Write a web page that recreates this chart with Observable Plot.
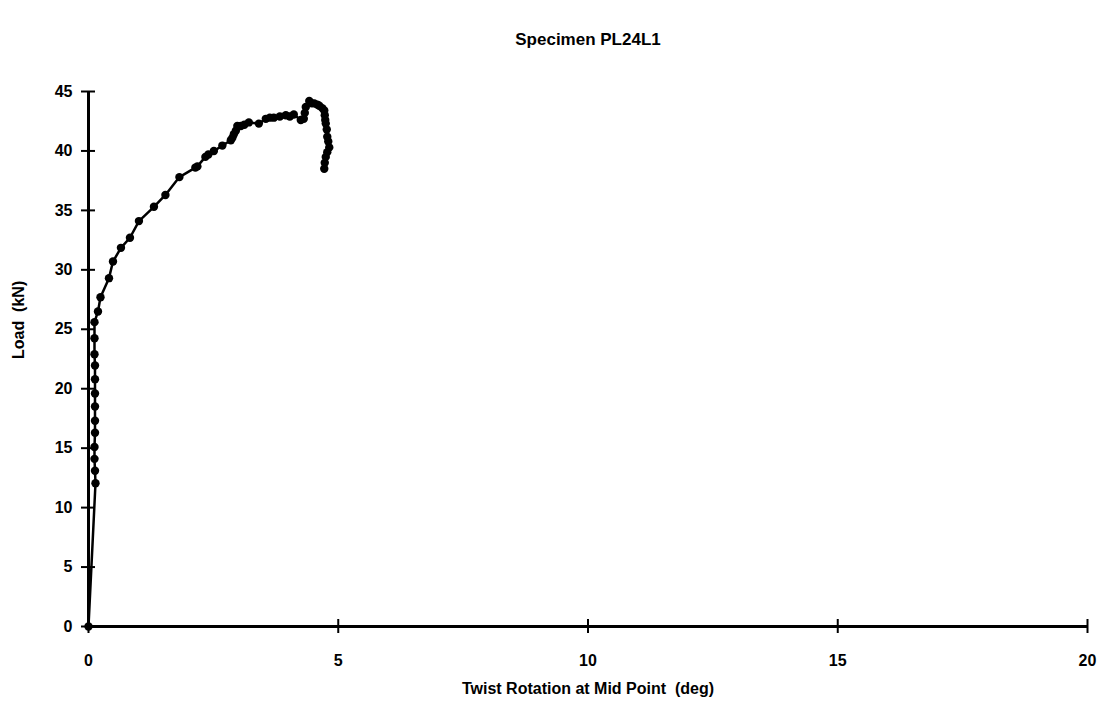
<!DOCTYPE html>
<html>
<head>
<meta charset="utf-8">
<script src="https://cdn.jsdelivr.net/npm/d3@7"></script>
<script src="https://cdn.jsdelivr.net/npm/@observablehq/plot@0.6"></script>
<style>
  html, body { margin: 0; padding: 0; background: #fff; }
  #chart svg { display: block; }
</style>
</head>
<body>
<div id="chart"></div>
<script>
const title = "Specimen PL24L1";
const xLabel = "Twist Rotation at Mid Point  (deg)";
const yLabel = "Load  (kN)";
const xTicks = [0, 5, 10, 15, 20];
const yTicks = [0, 5, 10, 15, 20, 25, 30, 35, 40, 45];

const rotation = [0, 0.14, 0.13, 0.12, 0.12, 0.13, 0.13, 0.13, 0.13, 0.13, 0.13, 0.12, 0.12, 0.12,
  0.19, 0.24, 0.41, 0.49, 0.65, 0.83, 1.01, 1.31, 1.54, 1.82, 2.14, 2.18, 2.34, 2.40, 2.51, 2.68, 2.85,
  2.88, 2.91, 2.95, 2.98, 3.05, 3.12, 3.21, 3.41, 3.55, 3.63, 3.71, 3.83, 3.95, 4.03, 4.11, 4.25, 4.31,
  4.33, 4.35, 4.42, 4.47, 4.52, 4.58, 4.62, 4.68, 4.72, 4.73, 4.74, 4.75, 4.77, 4.78, 4.80, 4.82,
  4.78, 4.75, 4.73, 4.72];
const load = [0, 12.05, 13.1, 14.1, 15.1, 16.3, 17.3, 18.5, 19.6, 20.8, 21.95, 22.9, 24.25, 25.6,
  26.5, 27.7, 29.3, 30.7, 31.85, 32.7, 34.1, 35.3, 36.3, 37.8, 38.6, 38.7, 39.5, 39.7, 40.0, 40.45, 40.9,
  41.1, 41.4, 41.7, 42.1, 42.1, 42.2, 42.4, 42.3, 42.7, 42.8, 42.8, 42.9, 43.0, 42.9, 43.06, 42.6, 42.7,
  43.2, 43.7, 44.2, 44.0, 44.0, 43.9, 43.8, 43.6, 43.4, 43.0, 42.6, 42.3, 41.8, 41.2, 40.8, 40.3,
  39.9, 39.5, 39.0, 38.5];

const data = rotation.map((r, i) => ({rotation: r, load: load[i]}));
const font = "'Liberation Sans', Arial, sans-serif";

const chart = Plot.plot({
  width: 1104,
  height: 713,
  marginLeft: 88,
  marginRight: 17,
  marginTop: 91,
  marginBottom: 87,
  style: {fontFamily: font, fontSize: "16px", fontWeight: "bold", color: "#000", background: "#fff"},
  x: {domain: [0, 20]},
  y: {domain: [0, 45]},
  marks: [
    Plot.axisX(xTicks, {tickSize: 0, tickPadding: 28, fontSize: 16, fontWeight: "bold", label: null}),
    Plot.axisY(yTicks, {tickSize: 0, tickPadding: 16, fontSize: 16, fontWeight: "bold", label: null}),
    Plot.ruleX(xTicks, {x: d => d, y1: 0, y2: 0, insetTop: -7, insetBottom: -7, stroke: "#000", strokeWidth: 2}),
    Plot.ruleY(yTicks, {y: d => d, x1: 0, x2: 0, insetLeft: -7, insetRight: -7, stroke: "#000", strokeWidth: 2}),
    Plot.ruleY([0], {stroke: "#000", strokeWidth: 3}),
    Plot.ruleX([0], {stroke: "#000", strokeWidth: 3}),
    Plot.line(data, {x: "rotation", y: "load", stroke: "#000", strokeWidth: 2.5, curve: "linear"}),
    Plot.dot(data, {x: "rotation", y: "load", r: 4.2, fill: "#000", stroke: "none"}),
    Plot.text([title], {text: d => d, frameAnchor: "top", dy: -59, fontSize: 17, fontWeight: "bold"}),
    Plot.text([xLabel], {text: d => d, frameAnchor: "bottom", dy: 67, fontSize: 16, fontWeight: "bold"}),
    Plot.text([yLabel], {text: d => d, frameAnchor: "left", dx: -70, rotate: -90, fontSize: 16, fontWeight: "bold"})
  ]
});
document.getElementById("chart").append(chart);
</script>
</body>
</html>
